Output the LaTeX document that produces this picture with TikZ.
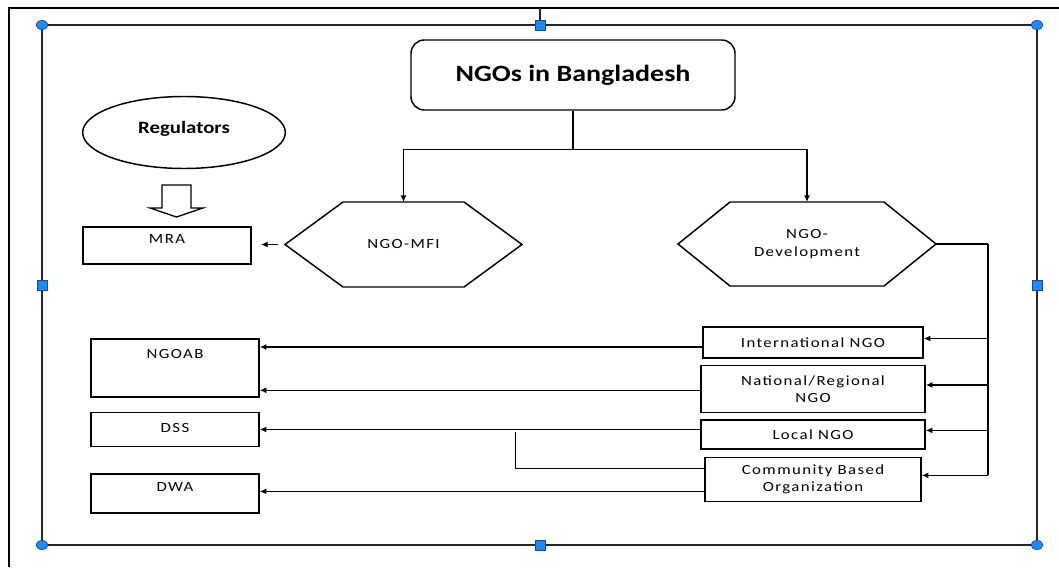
\documentclass[tikz,border=0pt]{standalone}
\usepackage{fontspec}
\setmainfont{Carlito}
\newfontfamily\wordfont[FakeStretch=1.2, LetterSpace=10]{Carlito}
\newfontfamily\titlefont[FakeStretch=1.2]{Carlito}
\usetikzlibrary{positioning, shapes.geometric, arrows.meta, calc}
\definecolor{handleblue}{RGB}{30,136,255}
\definecolor{handleedge}{RGB}{25,70,150}

\begin{document}
\begin{tikzpicture}[
        x=0.75pt, y=-0.75pt,
        every node/.style={align=center, font=\wordfont\fontsize{10.5}{13}\selectfont},
        box/.style={draw, line width=1.1pt, inner sep=2pt},
        lift/.style={text height=7pt, text depth=#1},
        hexa/.style={inner sep=0pt, outer sep=0pt},
        link/.style={line width=1.1pt},
        arrow/.style={-{Latex[length=5pt,width=4.5pt]}, line width=1.1pt},
        handle/.style={fill=handleblue, draw=handleedge, line width=0.5pt}
      ]
    \useasboundingbox (0,0) rectangle (1059,567);

    % page edge and selection frame
    \draw[line width=2.2pt] (8,8) -- (1059,8);
    \draw[line width=1.1pt] (9,8) -- (9,567);
    \draw[line width=0.8pt, black!85] (42,25) rectangle (1037,545);
    \draw[line width=0.8pt, black!85] (540,8) -- (540,25);

    % top and middle level
    \node (ngo) [draw, line width=1.1pt, rounded corners=10pt, minimum width=243pt, minimum height=52.5pt,
      font=\titlefont\bfseries\fontsize{17.5}{20}\selectfont] at (573,75) {NGOs in Bangladesh};
    \node (mfi) [hexa, minimum width=177.75pt, minimum height=63.75pt] at (403.5,244.5) {NGO-MFI};
    \node (dev) [hexa, minimum width=193.5pt, minimum height=63pt] at (807,244) {NGO-\\Development};
    \foreach \h/\c in {mfi/43.5pt, dev/39pt}
      \draw[line width=1.1pt] (\h.west) -- ([xshift=\c]\h.north west) -- ([xshift=-\c]\h.north east)
        -- (\h.east) -- ([xshift=-\c]\h.south east) -- ([xshift=\c]\h.south west) -- cycle;
    \node (reg) [ellipse, draw, line width=1.1pt, minimum width=152pt, minimum height=54pt,
      font=\titlefont\bfseries\fontsize{13}{15}\selectfont, lift=6pt] at (184,132.5) {Regulators};

    % regulators
    \node (mra) [box, lift=10pt, minimum width=126pt, minimum height=27.75pt] at (167,245.5) {MRA};
    \node (ngoab) [box, lift=21pt, minimum width=126pt, minimum height=43.5pt] at (175,368) {NGOAB};
    \node (dss) [box, lift=2pt, minimum width=126pt, minimum height=25.5pt, below=10.5pt of ngoab] {DSS};
    \node (dwa) [box, lift=10pt, minimum width=126pt, minimum height=29.25pt, below=19.5pt of dss] {DWA};

    % kinds of development NGO
    \node (intl) [box, minimum width=165pt, minimum height=23.25pt] at (813,342.5) {International NGO};
    \node (natl) [box, minimum width=168pt, minimum height=35.25pt, below=4.5pt of intl] {National/Regional\\NGO};
    \node (local) [box, minimum width=168pt, minimum height=21.75pt, below=4.5pt of natl] {Local NGO};
    \node (cbo) [box, minimum width=162pt, minimum height=33pt, below=5.25pt of local] {Community Based\\Organization};

    % hollow arrow
    \draw[line width=1pt] (162,185) -- (191,185) -- (191,208) -- (203,208) -- (176.5,217)
      -- (150,208) -- (162,208) -- cycle;

    % tree
    \draw[link] (ngo.south) -- ++(0,39) coordinate (split);
    \draw[arrow] (split) -| (mfi.north);
    \draw[arrow] (split) -| (dev.north);
    \draw[arrow, shorten <=5pt, shorten >=7pt] (mfi.west) -- (mfi.west -| mra.east);

    \draw[link] (dev.east) -- ++(52,0) coordinate (bus);
    \foreach \b in {intl, natl, local, cbo}
      \coordinate (\b-in) at ([yshift=3pt]\b.east);
    \draw[link] (bus) -- (bus |- cbo-in);
    \foreach \b in {intl, natl, local, cbo}
      \draw[arrow] (bus |- \b-in) -- (\b-in);

    \coordinate (intl-out) at ([yshift=-3.4pt]intl.west);
    \coordinate (cbo-up) at ([yshift=8.25pt]cbo.west);
    \coordinate (cbo-dn) at ([yshift=-9pt]cbo.west);
    \coordinate (join) at ($(dss.east)!0.58!(local.west)$);
    \draw[arrow] (intl-out) -- (intl-out -| ngoab.east);
    \draw[arrow] ([yshift=-1pt]natl.west) -- ([yshift=-1pt]natl.west -| ngoab.east);
    \draw[arrow] (local.west |- dss.east) -- (dss.east);
    \draw[link] (cbo-up) -| (join);
    \draw[arrow] (cbo-dn) -- (cbo-dn -| dwa.east);

    % handles
    \foreach \p in {(42,25), (1037,25), (42,545), (1037,545)}
      \draw[handle] \p ellipse (6 and 4.5);
    \foreach \p in {(540,25), (42,285), (1037,285), (540,545)}
      \draw[handle] \p ++(-5,-5) rectangle ++(10,10);

    \end{tikzpicture}
\end{document}
